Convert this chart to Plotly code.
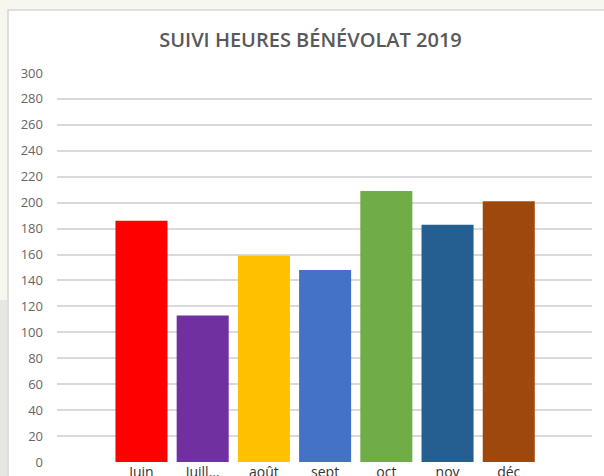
import plotly.graph_objects as go

months = ["Juin", "Juill...", "août", "sept", "oct", "nov", "déc"]
hours = [186, 113, 159, 148, 209, 183, 201]
colors = ["#ff0000", "#7030a0", "#ffc000", "#4472c4", "#70ad47", "#255e91", "#9e480e"]
y_ticks = list(range(0, 301, 20))
title_text = "SUIVI HEURES BÉNÉVOLAT 2019"

W, H = 604, 476
L, R, T, B = 57, 12, 73, 14
pw, ph = W - L - R, H - T - B


def px_x(p):
    return (p - L) / pw


def px_y(p):
    return (H - B - p) / ph


fig = go.Figure()
fig.add_trace(go.Bar(
    x=months, y=hours,
    marker=dict(color=colors, line=dict(width=0)),
    hoverinfo="x+y",
))

shapes = [
    # white chart box with thin border
    dict(type="rect", xref="paper", yref="paper", layer="below",
         x0=px_x(8), x1=px_x(W + 5), y0=px_y(H + 5), y1=px_y(10),
         fillcolor="#ffffff", line=dict(color="#d6d6d6", width=1.5)),
    # left shadow strip
    dict(type="rect", xref="paper", yref="paper", layer="below",
         x0=px_x(0), x1=px_x(7), y0=px_y(H), y1=px_y(300),
         fillcolor="#e6e6e2", line=dict(width=0)),
]

fig.update_layout(
    width=W, height=H,
    margin=dict(l=L, r=R, t=T, b=B, autoexpand=False),
    paper_bgcolor="#f7f7f0",
    plot_bgcolor="rgba(0,0,0,0)",
    showlegend=False,
    bargap=0.15,
    shapes=shapes,
    title=dict(text=title_text, x=310.5 / W, xanchor="center", y=1 - 40 / H, yanchor="middle",
               font=dict(family="Open Sans", size=20, color="#595959", weight=600)),
    font=dict(family="Open Sans"),
    xaxis=dict(
        type="category", range=[-1.38, 7.36], automargin=False,
        showgrid=False, zeroline=False, showline=False,
        ticks="", ticklabelstandoff=0,
        tickfont=dict(family="Open Sans", size=14, color="#333333"),
    ),
    yaxis=dict(
        range=[0, 300], tickvals=y_ticks, automargin=False,
        showgrid=True, gridcolor="#d9d9d9", gridwidth=1.5,
        zeroline=False, showline=False, ticks="",
        ticklabelstandoff=13,
        tickfont=dict(family="Open Sans", size=13, color="#666666"),
    ),
)

fig.write_html("out.html", config={"displayModeBar": False},
               post_script="document.body.style.margin='0';")
